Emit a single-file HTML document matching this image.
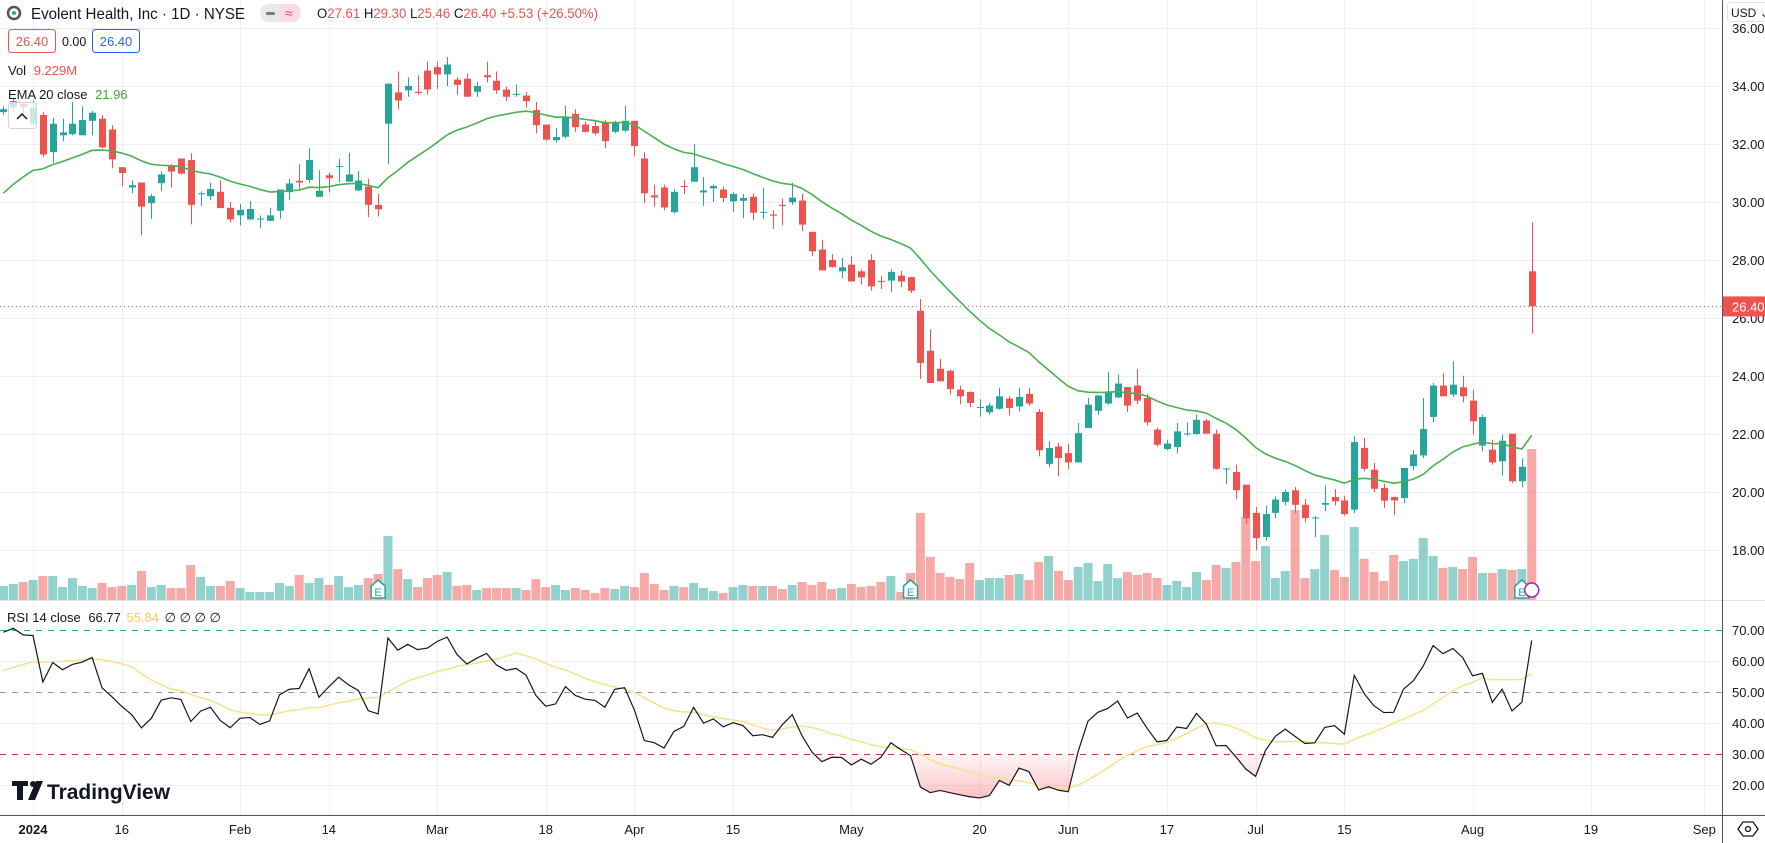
<!DOCTYPE html>
<html><head><meta charset="utf-8"><style>
html,body{margin:0;padding:0;background:#fff;}
svg{display:block;font-family:"Liberation Sans",sans-serif;}
</style></head><body>
<svg id="chart" width="1765" height="843" viewBox="0 0 1765 843" xmlns="http://www.w3.org/2000/svg">
<defs>
<linearGradient id="osGrad" x1="0" y1="754" x2="0" y2="800" gradientUnits="userSpaceOnUse">
<stop offset="0" stop-color="#f23645" stop-opacity="0.04"/>
<stop offset="1" stop-color="#f23645" stop-opacity="0.32"/>
</linearGradient>
<clipPath id="paneClip"><rect x="0" y="0" width="1722" height="815"/></clipPath>
</defs>
<g id="grid"></g>
<g id="vol" clip-path="url(#paneClip)"></g>
<g id="candles" clip-path="url(#paneClip)"></g>
<g id="ema" clip-path="url(#paneClip)"></g>
<g id="rsi" clip-path="url(#paneClip)"></g>
<g id="axes"></g>

<!-- header -->
<g>
 <circle cx="14" cy="13" r="6" fill="none" stroke="#555" stroke-width="2.5"/>
 <circle cx="14" cy="13" r="2" fill="#26a69a"/>
 <text x="31" y="19" font-size="16" fill="#131722" textLength="214" lengthAdjust="spacingAndGlyphs">Evolent Health, Inc · 1D · NYSE</text>
 <rect x="260" y="4" width="20" height="18" rx="9" fill="#e8e9ed"/>
 <rect x="272" y="4" width="8" height="18" fill="#e8e9ed"/>
 <rect x="280" y="4" width="21" height="18" rx="9" fill="#fbdbe4"/>
 <rect x="280" y="4" width="8" height="18" fill="#fbdbe4"/>
 <rect x="266" y="12" width="9" height="3" rx="1.5" fill="#787b86"/>
 <text x="285" y="18" font-size="14" fill="#e0457b">≈</text>
 <text x="317" y="18" font-size="13.5" fill="#ef5350" textLength="281" lengthAdjust="spacingAndGlyphs"><tspan fill="#131722">O</tspan>27.61 <tspan fill="#131722">H</tspan>29.30 <tspan fill="#131722">L</tspan>25.46 <tspan fill="#131722">C</tspan>26.40 +5.53 (+26.50%)</text>
 <rect x="8.5" y="29.5" width="47" height="23" rx="3" fill="#fff" stroke="#ef5350"/>
 <text x="32" y="46" font-size="13" fill="#ef5350" text-anchor="middle">26.40</text>
 <text x="62" y="46" font-size="12.5" fill="#131722">0.00</text>
 <rect x="92.5" y="29.5" width="47" height="23" rx="3" fill="#fff" stroke="#2962ff"/>
 <text x="116" y="46" font-size="13" fill="#2962ff" text-anchor="middle">26.40</text>
 <text x="8" y="75" font-size="13" fill="#131722">Vol <tspan fill="#ef5350" dx="4">9.229M</tspan></text>
 <text x="8" y="99" font-size="13" fill="#131722">EMA 20 close <tspan fill="#43a047" dx="4">21.96</tspan></text>
 <rect x="8.5" y="102.5" width="28" height="26" rx="3" fill="rgba(255,255,255,0.75)" stroke="#d1d4dc"/>
 <path d="M17 119 L22 114 L27 119" fill="none" stroke="#131722" stroke-width="1.5"/>
 <text x="7" y="622" font-size="13" fill="#131722">RSI 14 close <tspan fill="#131722" dx="4">66.77</tspan> <tspan fill="#f0d24a" dx="2">55.84</tspan> <tspan dx="2">∅ ∅ ∅ ∅</tspan></text>
 <g>
  <path d="M12 781 h16 v5 h-5 v14 h-6 v-14 h-5z" fill="#131722"/>
  <circle cx="33" cy="784" r="3" fill="#131722"/>
  <path d="M36 781 h7 l-8 19 h-7z" fill="#131722"/>
  <text x="47" y="799" font-size="21" font-weight="bold" fill="#131722" textLength="123" lengthAdjust="spacingAndGlyphs">TradingView</text>
 </g>
</g>
</svg>
<script>
// ---- data (Dec 27 2023 .. Aug 9 2024), index 0 = Jan 2 2024 ----
const startIndex = -3;
const opens = [33.1,33.26,33.38,32.7,33.0,31.72,32.3,32.34,32.3,32.8,32.87,32.5,31.2,30.5,30.67,29.96,30.65,31.27,31.5,31.45,30.27,30.2,30.35,29.8,29.54,29.4,29.4,29.35,29.7,30.34,30.73,30.76,30.18,30.92,31.22,30.7,30.4,30.53,29.9,32.7,33.78,33.85,33.8,34.53,34.65,34.4,34.22,34.25,33.8,34.37,34.18,33.88,33.7,33.67,33.17,32.67,32.13,32.25,33.04,32.67,32.62,32.74,32.42,32.46,32.8,31.5,30.23,30.5,29.65,30.55,30.7,30.33,30.47,30.43,30.02,30.04,30.18,29.63,29.57,29.9,29.99,30.05,28.97,28.36,28.0,27.61,27.84,27.61,28.0,27.28,27.29,27.46,27.41,26.25,24.87,24.25,24.18,23.53,23.45,22.9,22.75,22.87,23.22,22.95,23.38,22.76,20.97,21.57,21.34,21.02,22.21,22.8,23.05,23.26,23.62,23.67,23.24,22.15,21.48,21.55,22.0,22.0,22.46,22.01,20.79,20.69,20.25,19.28,18.45,19.28,19.66,20.06,19.56,19.1,19.56,19.83,19.71,19.39,21.52,20.77,20.14,19.83,19.79,20.89,21.26,22.59,23.67,23.36,23.61,23.15,21.6,21.46,21.06,22.01,20.37,27.61];
const highs = [33.3,33.6,33.45,33.5,33.1,32.9,32.87,33.45,33.3,33.14,33.0,32.65,31.2,30.74,30.67,30.28,31.05,31.3,31.5,31.68,30.37,30.67,30.74,30.0,29.94,30.03,29.54,29.8,30.43,30.8,31.3,31.85,31.1,31.0,31.49,31.7,31.07,30.8,30.28,34.08,34.5,34.3,34.37,34.84,34.84,35.0,34.3,34.43,34.15,34.84,34.5,33.98,34.06,33.78,33.45,32.67,32.55,33.32,33.2,32.77,32.77,32.83,32.8,33.32,32.8,31.72,30.6,30.6,30.45,30.76,31.99,30.86,30.6,30.53,30.33,30.27,30.28,30.49,29.71,30.12,30.66,30.28,28.97,28.7,28.2,28.07,28.13,27.67,28.2,27.44,27.69,27.62,27.41,26.65,25.6,24.59,24.22,23.67,23.47,23.2,23.07,23.6,23.3,23.6,23.6,22.86,21.75,21.69,21.67,22.38,23.24,23.33,24.14,24.05,23.62,24.24,23.38,22.21,21.8,22.38,22.4,22.67,22.52,22.15,20.83,20.94,20.25,19.48,19.53,19.85,20.08,20.17,19.76,19.18,20.22,20.1,19.87,21.92,21.86,21.0,20.29,19.83,20.83,21.44,23.24,23.76,24.1,24.51,24.01,23.53,22.67,21.8,21.98,22.01,21.17,29.30];
const lows = [33.0,33.1,33.0,32.6,31.55,31.35,32.1,32.3,32.3,32.3,31.85,31.17,30.55,30.3,28.85,29.42,30.37,30.5,30.95,29.23,29.87,30.06,29.79,29.3,29.2,29.38,29.1,29.35,29.42,30.06,30.4,30.67,30.18,30.33,30.67,30.7,30.37,29.48,29.5,31.3,33.2,33.63,33.7,33.7,33.9,34.0,33.7,33.63,33.63,34.12,33.73,33.48,33.63,33.26,32.37,32.1,32.05,32.2,32.42,32.4,32.3,31.85,32.37,32.4,31.57,29.96,29.84,29.71,29.6,30.27,30.7,29.87,30.0,30.0,29.65,29.44,29.38,29.42,29.07,29.2,29.9,28.99,28.13,27.64,27.74,27.38,27.26,27.15,26.94,27.0,26.89,27.06,26.86,23.9,23.76,23.82,23.36,23.03,22.93,22.6,22.67,22.84,22.64,22.78,22.98,21.23,20.85,20.54,20.79,21.02,22.21,22.67,23.01,23.24,22.75,23.03,22.29,21.57,21.44,21.34,21.94,21.98,22.01,20.77,20.28,19.76,18.9,17.99,18.33,19.1,19.54,19.28,18.95,18.45,19.33,19.53,19.18,19.28,20.71,19.99,19.45,19.2,19.62,20.75,21.17,22.4,23.3,23.28,23.09,21.98,21.4,20.94,20.57,20.31,20.16,25.46];
const closes = [33.2,33.48,33.28,33.26,31.64,32.7,32.4,32.7,32.83,33.08,31.88,31.47,31.0,30.58,29.84,30.2,30.95,31.05,30.98,29.9,30.3,30.45,29.79,29.4,29.73,29.76,29.43,29.54,30.43,30.64,30.67,31.45,30.39,30.82,31.24,30.95,30.74,29.9,29.75,34.08,33.5,34.0,33.76,33.88,34.4,34.74,34.04,33.63,34.0,34.3,33.85,33.63,33.73,33.48,32.65,32.15,32.24,32.95,32.58,32.42,32.37,32.1,32.74,32.8,31.93,30.3,30.16,29.81,30.35,30.52,31.2,30.4,30.55,30.14,30.28,30.14,29.63,29.66,29.53,29.87,30.15,29.22,28.3,27.64,27.76,27.75,27.26,27.4,27.09,27.25,27.59,27.26,26.94,24.45,23.76,23.82,23.55,23.3,23.07,22.93,22.98,23.3,22.9,23.28,23.05,21.44,21.52,21.17,21.02,22.03,23.01,23.33,23.47,23.74,22.98,23.15,22.4,21.63,21.67,22.09,22.02,22.49,22.01,20.8,20.81,20.06,19.1,18.41,19.24,19.74,20.0,19.56,19.1,19.12,19.62,19.68,19.24,21.72,20.8,20.11,19.7,19.71,20.83,21.29,22.17,23.67,23.3,23.7,23.3,22.44,22.59,21.02,21.77,20.37,20.87,26.40];
const volumes = [0.86,0.98,1.10,1.22,1.47,1.47,0.79,1.34,0.86,0.73,1.04,0.79,0.86,0.92,1.77,0.79,0.92,0.73,0.73,2.14,1.41,0.86,0.86,1.16,0.73,0.49,0.49,0.49,1.04,0.86,1.53,1.04,1.34,0.92,1.47,0.79,0.92,1.34,1.59,3.91,1.89,
 1.28,0.79,1.34,1.53,1.71,0.86,0.92,0.61,0.73,0.73,0.73,0.73,0.61,1.28,0.79,0.92,0.61,0.73,0.61,0.43,0.73,0.67,0.86,0.79,1.65,0.98,0.61,0.86,0.79,1.04,0.73,0.55,0.43,0.79,0.92,0.86,0.86,0.86,0.67,
 0.92,1.10,0.92,1.10,0.67,0.73,0.98,0.79,0.86,1.10,1.47,0.49,1.65,5.32,2.63,1.65,1.41,1.28,2.26,1.22,1.34,1.34,1.53,1.59,1.22,2.32,2.69,1.77,1.22,2.02,2.26,1.16,2.20,1.34,1.71,1.53,1.65,1.34,0.92,1.16,
 0.79,1.71,1.22,2.14,1.96,2.32,5.07,2.38,3.30,1.34,1.77,5.50,1.34,1.89,3.97,1.83,1.41,4.46,2.51,1.71,1.16,2.75,2.38,2.51,3.79,2.69,1.96,2.02,1.89,2.63,1.65,1.65,1.89,1.83,1.89,9.229];
const priceTicks = [18,20,22,24,26,28,30,32,34,36];
const rsiTicks = [20,30,40,50,60,70];
const timeTickIdx = [0,9,21,30,41,52,61,71,83,96,105,115,124,133,146,158,169.5];
const timeTickLabels = ["2024","16","Feb","14","Mar","18","Apr","15","May","20","Jun","17","Jul","15","Aug","19","Sep"];
const earningsIdx = [35,89,151];
const lastPrice = 26.40;
const emaSeed = 30.0, rsiSeedGain = 0.38, rsiSeedLoss = 0.17, rsiPrevAvg = 56;

// ---- scales ----
const xOf = i => 33 + i*9.86;
const yP = p => 86 + (34 - p)*29;
const yR = r => 630 + (70 - r)*3.1;
const volMaxVal = Math.max(...volumes);
const yV = v => 600 - v/volMaxVal*151;
const NS = "http://www.w3.org/2000/svg";
function mk(tag, attrs, parent){const e=document.createElementNS(NS,tag);for(const k in attrs)e.setAttribute(k,attrs[k]);parent.appendChild(e);return e;}
const G = id => document.getElementById(id);
const UP="#26a69a", DN="#ef5350";

// grid
const grid=G('grid');
timeTickIdx.forEach(t=>{const x=Math.round(xOf(t))+0.5;const l=mk('line',{x1:x,x2:x,y1:0,y2:815,stroke:'#eef0f4','stroke-width':1},grid);

});
priceTicks.forEach(p=>{const y=Math.round(yP(p))+0.5;const l=mk('line',{x1:0,x2:1722,y1:y,y2:y,stroke:'#eef0f4'},grid);

});
[20,40,60].forEach(r=>{const y=Math.round(yR(r))+0.5;const l=mk('line',{x1:0,x2:1722,y1:y,y2:y,stroke:'#eef0f4'},grid);

});

// volume
const vg=G('vol');
volumes.forEach((v,k)=>{const i=k+startIndex;const x=xOf(i);const up=closes[k]>=opens[k];
const r=mk('rect',{x:x-4.5,y:yV(v),width:9,height:600-yV(v),fill:up?'rgba(38,166,154,0.5)':'rgba(239,83,80,0.5)'},vg);

});

// last price line
const lp=mk('line',{x1:0,x2:1722,y1:yP(lastPrice),y2:yP(lastPrice),stroke:'#ef5350','stroke-dasharray':'1 3','stroke-width':1},G('candles'));



// candles
const cg=G('candles');
closes.forEach((c,k)=>{const i=k+startIndex;const x=Math.round(xOf(i));const o=opens[k];const up=c>=o;const col=up?UP:DN;
const w=mk('line',{x1:x+0.5,x2:x+0.5,y1:yP(highs[k]),y2:yP(lows[k]),stroke:col,'stroke-width':1},cg);


const top=yP(Math.max(o,c)),bot=yP(Math.min(o,c));
const b=mk('rect',{x:x-3,y:top,width:7,height:Math.max(1,bot-top),fill:col},cg);

});

// earnings markers
earningsIdx.forEach(i=>{const x=xOf(i),y=590;
const g=mk('g',{},cg);


mk('path',{d:`M${x-7} ${y-4} L${x} ${y-10} L${x+7} ${y-4} L${x+7} ${y+8} L${x-7} ${y+8}Z`,fill:'#fff',stroke:'#26a69a','stroke-width':1.5},g);
const t=mk('text',{x:x,y:y+6,'font-size':11,fill:'#26a69a','text-anchor':'middle'},g);t.textContent='E';});
const dv=mk('circle',{cx:xOf(152),cy:590,r:7,fill:'#fff',stroke:'#9c27b0','stroke-width':1.5},cg);



// EMA
let e=emaSeed;const emaPts=[];const a=2/21;
closes.forEach((c,k)=>{e=e+a*(c-e);emaPts.push([xOf(k+startIndex),yP(e)]);});
const em=mk('polyline',{points:emaPts.map(p=>p.join(',')).join(' '),fill:'none',stroke:'#4caf50','stroke-width':1.6},G('ema'));



// RSI
let ag=rsiSeedGain, al=rsiSeedLoss, prev=33.15;const rsiVals=[];
closes.forEach(c=>{const d=c-prev;prev=c;ag=(ag*13+Math.max(d,0))/14;al=(al*13+Math.max(-d,0))/14;rsiVals.push(100-100/(1+ag/al));});
const hist=new Array(13).fill(rsiPrevAvg).concat(rsiVals);
const maVals=rsiVals.map((r,k)=>{let s=0;for(let j=k;j<k+14;j++)s+=hist[j];return s/14;});
const rg=G('rsi');
// oversold fill
let fillD='';
rsiVals.forEach((r,k)=>{const x=xOf(k+startIndex);fillD+=(k?'L':'M')+x+' '+Math.max(yR(r),yR(30));});
for(let k=rsiVals.length-1;k>=0;k--)fillD+='L'+xOf(k+startIndex)+' '+yR(30);
const fp=mk('path',{d:fillD+'Z',fill:'url(#osGrad)'},rg);


[[70,'#26a69a'],[50,'#9598a1'],[30,'#b2393f']].forEach(([v,c])=>{const y=Math.round(yR(v))+0.5;
const l=mk('line',{x1:0,x2:1722,y1:y,y2:y,stroke:c,'stroke-dasharray':'6 6','stroke-width':1},rg);

});
const ma=mk('polyline',{points:maVals.map((r,k)=>xOf(k+startIndex)+','+yR(r)).join(' '),fill:'none',stroke:'#f7e28c','stroke-width':1.5},rg);


const rl=mk('polyline',{points:rsiVals.map((r,k)=>xOf(k+startIndex)+','+yR(r)).join(' '),fill:'none',stroke:'#131722','stroke-width':1.2},rg);



// axes
const ax=G('axes');
mk('line',{x1:0,x2:1765,y1:600.5,y2:600.5,stroke:'#e0e3eb'},ax);
mk('line',{x1:0,x2:1765,y1:815.5,y2:815.5,stroke:'#50535e'},ax);
mk('line',{x1:1722.5,x2:1722.5,y1:0,y2:843,stroke:'#50535e'},ax);
priceTicks.forEach(p=>{const t=mk('text',{x:1732,y:yP(p)+5,'font-size':13,fill:'#131722'},ax);t.textContent=p.toFixed(2);

});
rsiTicks.forEach(r=>{const t=mk('text',{x:1732,y:yR(r)+5,'font-size':13,fill:'#131722'},ax);t.textContent=r.toFixed(2);

});
timeTickIdx.forEach((ti,k)=>{const t=mk('text',{x:xOf(ti),y:834,'font-size':13,fill:'#131722','text-anchor':'middle','font-weight':k===0?'bold':'normal'},ax);t.textContent=timeTickLabels[k];

});
const pt=mk('rect',{x:1723,y:yP(lastPrice)-10,width:42,height:20,fill:'#ef5350'},ax);


const ptt=mk('text',{x:1732,y:yP(lastPrice)+5,'font-size':13,fill:'#fff'},ax);ptt.textContent=lastPrice.toFixed(2);
const ub=mk('rect',{x:1723,y:0,width:42,height:24,fill:'#fff'},ax);
const ubb=mk('rect',{x:1727.5,y:2.5,width:40,height:19,rx:3,fill:'#fff',stroke:'#e0e3eb'},ax);


const ut=mk('text',{x:1731,y:17,'font-size':12,fill:'#131722'},ax);ut.textContent='USD ⌄';
const eye=mk('g',{},ax);


mk('path',{d:'M1738 829 L1743 822 L1753 822 L1758 829 L1753 836 L1743 836Z',fill:'none',stroke:'#131722','stroke-width':1.3},eye);
mk('circle',{cx:1748,cy:829,r:2.5,fill:'none',stroke:'#131722','stroke-width':1.3},eye);
</script>
</body></html>
